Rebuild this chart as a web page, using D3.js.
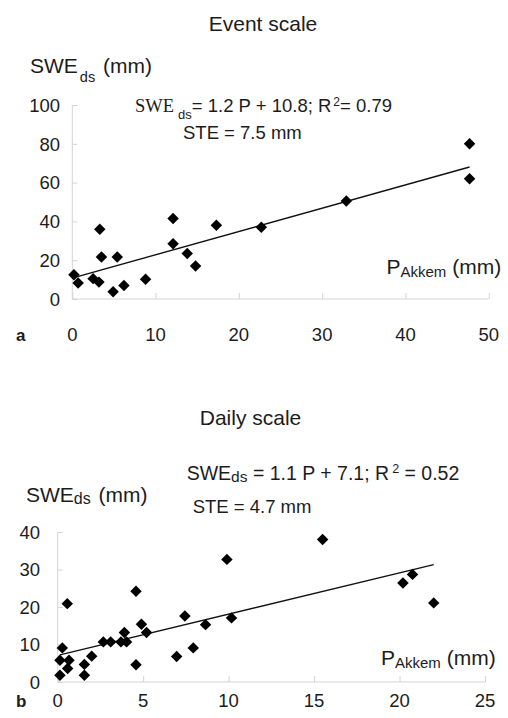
<!DOCTYPE html>
<html>
<head>
<meta charset="utf-8">
<script src="https://cdn.jsdelivr.net/npm/d3@7"></script>
<style>
  html, body { margin: 0; padding: 0; background: #fff; }
  svg text { font-family: "Liberation Sans", Arial, Helvetica, sans-serif; fill: #1c1c1c; }
</style>
</head>
<body>
<svg id="chart" width="508" height="718"></svg>
<script>
// Event-scale data: accumulated precipitation at Akkem (mm) vs snow water equivalent (mm)
const eventP   = [0.2, 0.7, 2.5, 3.2, 3.3, 3.5, 4.9, 5.4, 6.2, 8.8, 12.1, 12.1, 13.8, 14.8, 17.3, 22.7, 32.9, 47.7, 47.7];
const eventSWE = [12.5, 8.2, 10.5, 8.7, 36, 21.7, 3.7, 21.7, 7, 10.2, 41.5, 28.5, 23.5, 17, 38, 37, 50.5, 80, 62];
const eventFit = { slope: 1.2, intercept: 10.8 };
const eventXTicks = [0, 10, 20, 30, 40, 50];
const eventYTicks = [0, 20, 40, 60, 80, 100];

// Daily-scale data
const dailyP   = [0.13, 0.27, 0.13, 0.56, 0.66, 0.58, 1.56, 1.56, 1.99, 2.67, 3.1, 3.7, 3.9, 4.03, 4.58, 4.58, 4.9, 5.2, 6.96, 7.44, 7.93, 8.65, 9.9, 10.17, 15.5, 20.2, 20.76, 22];
const dailySWE = [1.8, 9.1, 5.8, 20.9, 5.8, 3.6, 4.7, 1.8, 6.9, 10.7, 10.7, 10.7, 13.2, 10.7, 24.2, 4.6, 15.4, 13.2, 6.8, 17.6, 9.1, 15.3, 32.7, 17.1, 38, 26.4, 28.7, 21.1];
const dailyFit = { slope: 1.1, intercept: 7.1 };
const dailyXTicks = [0, 5, 10, 15, 20, 25];
const dailyYTicks = [0, 10, 20, 30, 40];

const svg = d3.select("#chart");
const axisColor = "#d4d4d4";
const diamond = d3.symbol().type(d3.symbolSquare).size(66);

function panel(cfg) {
  const x = d3.scaleLinear().domain(cfg.xDomain).range(cfg.xRange);
  const y = d3.scaleLinear().domain(cfg.yDomain).range(cfg.yRange);
  const g = svg.append("g");

  // x axis with inward ticks
  const xa = g.append("g").attr("transform", `translate(0,${cfg.yRange[0]})`)
    .call(d3.axisTop(x).tickValues(cfg.xTicks).tickSize(6).tickFormat(""));
  xa.select(".domain").attr("stroke", axisColor).attr("d", `M${cfg.xRange[0]},0H${cfg.xRange[1]}`);
  xa.selectAll(".tick line").attr("stroke", axisColor);

  // y axis with inward ticks
  const ya = g.append("g").attr("transform", `translate(${cfg.xRange[0]},0)`)
    .call(d3.axisRight(y).tickValues(cfg.yTicks).tickSize(5).tickFormat(""));
  ya.select(".domain").attr("stroke", axisColor).attr("d", `M0,${cfg.yRange[0]}V${cfg.yRange[1]}`);
  ya.selectAll(".tick line").attr("stroke", axisColor);

  // tick labels
  g.selectAll(".ylab").data(cfg.yTicks).join("text")
    .attr("x", cfg.yLabelX).attr("y", d => y(d) + 6.8)
    .attr("text-anchor", "end").attr("font-size", 18.5).text(d => d);
  g.selectAll(".xlab").data(cfg.xTicks).join("text")
    .attr("x", d => x(d)).attr("y", cfg.xLabelY)
    .attr("text-anchor", "middle").attr("font-size", 18.5).text(d => d);

  // regression line over the range of the data
  const xr = d3.extent(cfg.px);
  g.append("line")
    .attr("x1", x(xr[0])).attr("y1", y(cfg.fit.slope * xr[0] + cfg.fit.intercept))
    .attr("x2", x(xr[1])).attr("y2", y(cfg.fit.slope * xr[1] + cfg.fit.intercept))
    .attr("stroke", "#111").attr("stroke-width", 1.4);

  // diamond markers
  g.selectAll(".pt").data(cfg.px.map((p, i) => [p, cfg.py[i]])).join("path")
    .attr("d", diamond)
    .attr("transform", d => `translate(${x(d[0])},${y(d[1])}) rotate(45)`)
    .attr("fill", "#000");
  return g;
}

panel({
  xDomain: [0, 50], xRange: [72.3, 488.7],
  yDomain: [0, 100], yRange: [299, 105],
  xTicks: eventXTicks, yTicks: eventYTicks,
  px: eventP, py: eventSWE, fit: eventFit,
  yLabelX: 60, xLabelY: 341
});

panel({
  xDomain: [0, 25], xRange: [57.7, 485],
  yDomain: [0, 40], yRange: [682, 532],
  xTicks: dailyXTicks, yTicks: dailyYTicks,
  px: dailyP, py: dailySWE, fit: dailyFit,
  yLabelX: 40, xLabelY: 707
});

// ---- Texts: panel a ----
svg.append("text").attr("x", 263).attr("y", 31).attr("text-anchor", "middle")
  .attr("font-size", 21).text("Event scale");

let t = svg.append("text").attr("x", 30).attr("y", 73).attr("font-size", 21);
t.append("tspan").text("SWE");
t.append("tspan").attr("dx", 2).attr("dy", 9).attr("font-size", 14.5).text("ds");
t.append("tspan").attr("dx", 2).attr("dy", -9).text(" (mm)");

t = svg.append("text").attr("x", 135).attr("y", 111.7).attr("font-size", 18.5);
t.append("tspan").attr("font-family", "'Liberation Serif', 'Times New Roman', serif").text("SWE");
t.append("tspan").attr("dx", 4).attr("dy", 7).attr("font-size", 13).text("ds");
t.append("tspan").attr("dy", -7).text("= 1.2 P + 10.8; R");
t.append("tspan").attr("dx", 2).attr("dy", -6).attr("font-size", 12).text("2");
t.append("tspan").attr("dy", 6).text("= 0.79");

svg.append("text").attr("x", 183).attr("y", 138.5).attr("font-size", 18.5).text("STE = 7.5 mm");

t = svg.append("text").attr("x", 386.5).attr("y", 273.5).attr("font-size", 21);
t.append("tspan").text("P");
t.append("tspan").attr("dy", 3).attr("font-size", 15).text("Akkem");
t.append("tspan").attr("dy", -3).text(" (mm)");

svg.append("text").attr("x", 16).attr("y", 341).attr("font-size", 17)
  .attr("font-weight", "bold").text("a");

// ---- Texts: panel b ----
svg.append("text").attr("x", 250.5).attr("y", 425).attr("text-anchor", "middle")
  .attr("font-size", 21).text("Daily scale");

t = svg.append("text").attr("x", 26).attr("y", 501.5).attr("font-size", 21);
t.append("tspan").text("SWE");
t.append("tspan").attr("dy", 2).attr("font-size", 16).text("ds");
t.append("tspan").attr("dx", 2).attr("dy", -2).text(" (mm)");

t = svg.append("text").attr("x", 186.7).attr("y", 480).attr("font-size", 19.5);
t.append("tspan").text("SWE");
t.append("tspan").attr("dy", 2).attr("font-size", 15.5).text("ds");
t.append("tspan").attr("dy", -2).text(" = 1.1 P + 7.1; R");
t.append("tspan").attr("dx", 3).attr("dy", -7).attr("font-size", 12.5).text("2");
t.append("tspan").attr("dy", 7).text(" = 0.52");

svg.append("text").attr("x", 192.7).attr("y", 513).attr("font-size", 18.5).text("STE = 4.7 mm");

t = svg.append("text").attr("x", 381).attr("y", 665).attr("font-size", 21);
t.append("tspan").text("P");
t.append("tspan").attr("dy", 3).attr("font-size", 15).text("Akkem");
t.append("tspan").attr("dy", -3).text(" (mm)");

svg.append("text").attr("x", 16).attr("y", 707).attr("font-size", 17)
  .attr("font-weight", "bold").text("b");
</script>
</body>
</html>
